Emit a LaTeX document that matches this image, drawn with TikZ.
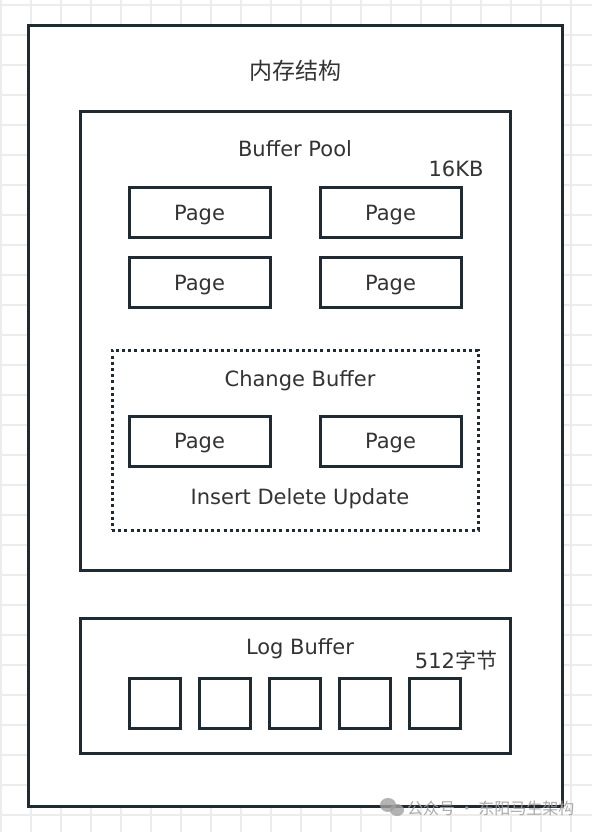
\documentclass[tikz,border=0pt]{standalone}
\usepackage{fontspec}
\setmainfont{DejaVu Sans}
\newfontfamily\cjk{Noto Sans CJK SC}
\definecolor{inkline}{HTML}{1F2A33}
\definecolor{inktext}{HTML}{333333}
\definecolor{gridgray}{HTML}{ECECEC}
\definecolor{markgray}{HTML}{A0A0A0}
\usetikzlibrary{positioning}

\tikzset{
  box/.style={draw=inkline, line width=3pt, inner sep=0pt},
  pagebox/.style={box, minimum width=141pt, minimum height=50pt, text depth=0pt,
    font=\fontsize{21}{24}\selectfont, text=inktext},
  slot/.style={box, minimum width=51pt, minimum height=50pt},
  label/.style={font=\fontsize{21}{24}\selectfont, text=inktext, inner sep=0pt},
}

\begin{document}
\begin{tikzpicture}[x=1pt, y=-1pt]
  \useasboundingbox (0,0) rectangle (592,832);
  % grid paper
  \foreach \k in {0,...,19}
    \draw[gridgray, line width=1.5pt] (1+30*\k,0) -- (1+30*\k,832);
  \foreach \k in {0,...,27}
    \draw[gridgray, line width=1.5pt] (0,5+30*\k) -- (592,5+30*\k);
  % memory
  \node[box, fill=white, minimum width=534pt, minimum height=780pt] (mem) at (295,416) {};
  \node[label, font=\fontsize{23}{26}\selectfont\cjk] (memtitle) at (295,71) {内存结构};
  % buffer pool
  \node[box, minimum width=430pt, minimum height=458pt] (pool) at (295,341) {};
  \node[label] (pooltitle) at (295,149) {Buffer Pool};
  \node[label] (poolsize) at (456,169) {16KB};
  \node[pagebox] (page11) at (199.5,212.5) {Page};
  \node[pagebox, right=47pt of page11] (page12) {Page};
  \node[pagebox, below=17pt of page11] (page21) {Page};
  \node[pagebox, right=47pt of page21] (page22) {Page};
  % change buffer
  \node[draw=inkline, line width=3pt, dash pattern=on 3pt off 3.2pt,
        minimum width=366pt, minimum height=180pt] (change) at (295,440) {};
  \node[label] (changetitle) at (300,381) {Change Buffer};
  \node[pagebox] (page31) at (199.5,441) {Page};
  \node[pagebox, right=47pt of page31] (page32) {Page};
  \node[label] (changeops) at (300,499) {Insert Delete Update};
  % log buffer
  \node[box, minimum width=430pt, minimum height=135pt] (log) at (295,685.5) {};
  \node[label] (logtitle) at (300,649) {Log Buffer};
  \node[label] (logsize) at (456,660) {512\cjk 字节};
  \foreach \i in {0,...,4}
    \node[slot] (slot\i) at (154.5+70*\i,703) {};
  % watermark
  \fill[markgray, opacity=0.8] (388,805) ellipse (8 and 7);
  \fill[markgray, opacity=0.8] (397,810) ellipse (7 and 6);
  \node[font=\fontsize{16}{18}\selectfont\cjk, text=markgray, opacity=0.9,
        anchor=west, inner sep=0pt] (mark) at (407,808) {公众号 · 东阳马生架构};
\end{tikzpicture}
\end{document}
